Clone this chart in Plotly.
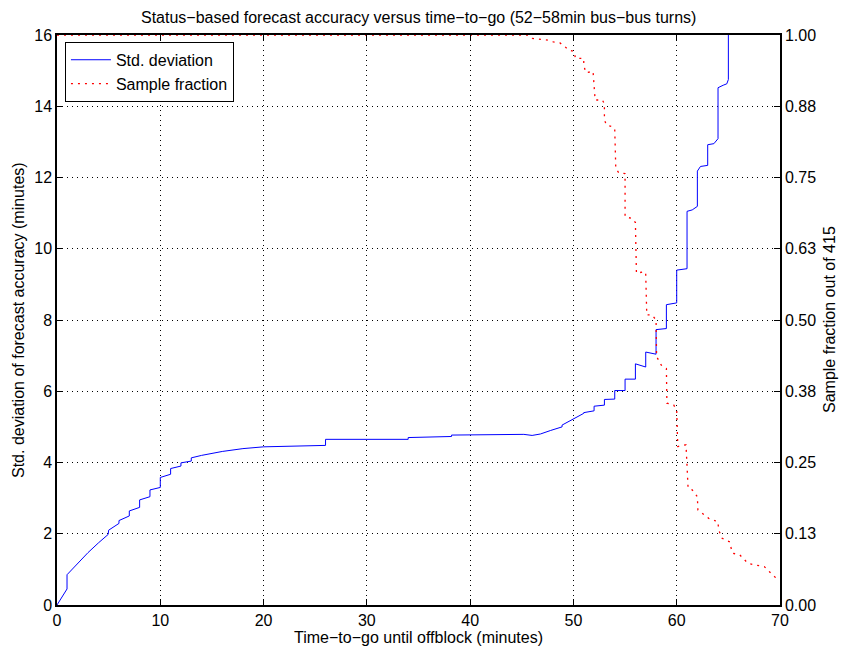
import plotly.graph_objects as go

# ---- data ----
std_x = [0, 0.97, 0.97, 2, 3, 4, 4.95, 5.0, 6.0, 6.0, 7.0, 7.0, 8.0, 8.0, 9.0, 9.0,
         10.0, 10.0, 11.0, 11.0, 12.0, 12.0, 13.0, 13.0, 14, 16, 18, 20, 23, 26, 26,
         34, 34, 37.4, 37.4, 38.2, 38.2, 43.7, 43.7, 45.2, 46, 46.8, 47.8, 48.9, 48.9,
         50, 51, 51, 52, 52, 53, 53, 54, 54, 55, 55, 56, 56, 56.5, 57, 57, 58, 58,
         59, 59, 60, 60, 61, 61, 61.5, 62, 62, 62.3, 63, 63, 63.6, 64, 64, 64.5,
         64.85, 65, 65]
std_y = [0, 0.45, 0.85, 1.17, 1.47, 1.74, 1.98, 2.10, 2.29, 2.37, 2.50, 2.64, 2.74, 2.95,
         3.04, 3.23, 3.30, 3.58, 3.67, 3.83, 3.90, 3.99, 4.04, 4.13, 4.20, 4.31, 4.39,
         4.44, 4.47, 4.48, 4.65, 4.65, 4.70, 4.71, 4.73, 4.73, 4.77, 4.77, 4.79, 4.79,
         4.76, 4.80, 4.90, 5.00, 5.05, 5.22, 5.38, 5.40, 5.45, 5.58, 5.61, 5.77, 5.78,
         6.02, 6.02, 6.34, 6.34, 6.77, 6.72, 6.68, 7.10, 7.04, 7.73, 7.76, 8.43, 8.48,
         9.40, 9.44, 11.05, 11.09, 11.19, 12.18, 12.31, 12.34, 12.92, 12.95, 13.09,
         14.52, 14.59, 14.63, 14.75, 20.0]

frac_x = [0, 45.5, 46.0, 46.7, 47.5, 48.05, 48.7, 49.1, 49.5, 50.05, 50.2, 51.0, 51.0,
          51.2, 51.9, 52.1, 52.8, 53.0, 53.0, 53.2, 53.8, 54.0, 54.1, 54.4, 55.0, 55.0,
          55.7, 56.0, 56.1, 56.9, 57.0, 57.1, 57.6, 58.0, 58.05, 58.5, 59.0, 59.05,
          59.7, 60.0, 60.1, 60.9, 61.1, 61.5, 62.0, 62.05, 62.7, 63.1, 64.0, 64.05,
          64.4, 65.1, 65.4, 66.1, 66.9, 67.7, 68.5, 69.0, 69.8]
frac_y = [1.0, 1.0, 0.994, 0.992, 0.991, 0.988, 0.986, 0.981, 0.974, 0.971, 0.959, 0.959,
          0.947, 0.934, 0.936, 0.886, 0.886, 0.879, 0.851, 0.842, 0.839, 0.835, 0.766,
          0.758, 0.757, 0.681, 0.678, 0.671, 0.582, 0.585, 0.580, 0.509, 0.509, 0.500,
          0.436, 0.421, 0.415, 0.354, 0.351, 0.342, 0.278, 0.281, 0.205, 0.202, 0.190,
          0.167, 0.158, 0.152, 0.146, 0.132, 0.117, 0.111, 0.091, 0.088, 0.073, 0.070,
          0.067, 0.058, 0.044]

x_ticks = [0, 10, 20, 30, 40, 50, 60, 70]
left_ticks = [0, 2, 4, 6, 8, 10, 12, 14, 16]
right_ticks = [0, 0.125, 0.25, 0.375, 0.5, 0.625, 0.75, 0.875, 1.0]
right_labels = ["0.00", "0.13", "0.25", "0.38", "0.50", "0.63", "0.75", "0.88", "1.00"]

title_text = "Status\u2212based forecast accuracy versus time\u2212to\u2212go (52\u221258min bus\u2212bus turns)"
xlabel = "Time\u2212to\u2212go until offblock (minutes)"
ylabel = "Std. deviation of forecast accuracy (minutes)"
y2label = "Sample fraction out of 415"

FONT = "Liberation Sans, Arial, Helvetica, sans-serif"

fig = go.Figure()
fig.add_trace(go.Scatter(x=std_x, y=std_y, mode="lines", name="Std. deviation",
                         line=dict(color="#0000ff", width=1)))
fig.add_trace(go.Scatter(x=frac_x, y=frac_y, mode="lines", name="Sample fraction",
                         yaxis="y2", line=dict(color="#ff0000", width=1.3, dash="2px,5px")))

grid = dict(showgrid=True, gridcolor="#000000", gridwidth=1, griddash="1px,4px")

fig.update_layout(
    width=843, height=652,
    paper_bgcolor="white", plot_bgcolor="white",
    margin=dict(l=57, r=63, t=35, b=47, pad=0),
    font=dict(family=FONT, size=16, color="black"),
    showlegend=True,
    legend=dict(x=0.011, y=0.988, xanchor="left", yanchor="top",
                bgcolor="white", bordercolor="black", borderwidth=1,
                font=dict(size=16), tracegroupgap=0, itemwidth=40),
    xaxis=dict(range=[0, 70], tickvals=x_ticks, ticks="inside", ticklen=6,
               tickcolor="black", showline=True, linecolor="black", linewidth=1.5,
               mirror="ticks", zeroline=False, tickfont=dict(size=16), **grid),
    yaxis=dict(range=[0, 16], tickvals=left_ticks, ticks="inside", ticklen=6,
               tickcolor="black", showline=True, linecolor="black", linewidth=1.5,
               mirror=True, zeroline=False, tickfont=dict(size=16), **grid),
    yaxis2=dict(range=[0, 1], tickvals=right_ticks, ticktext=right_labels,
                overlaying="y", side="right", ticks="inside", ticklen=6,
                tickcolor="black", showline=True, linecolor="black", linewidth=1.5,
                showgrid=False, zeroline=False, tickfont=dict(size=16)),
    annotations=[
        dict(text=title_text, x=0.5, y=1, xref="paper", yref="paper", yshift=18,
             xanchor="center", yanchor="middle", showarrow=False, font=dict(size=16)),
        dict(text=xlabel, x=0.5, xref="paper", y=0, yref="paper", yshift=-32,
             xanchor="center", yanchor="middle", showarrow=False, font=dict(size=16)),
        dict(text=ylabel, textangle=-90, x=0, xref="paper", xshift=-39, y=0.5,
             yref="paper", xanchor="center", yanchor="middle", showarrow=False,
             font=dict(size=16)),
        dict(text=y2label, textangle=-90, x=1, xref="paper", xshift=49, y=0.5,
             yref="paper", xanchor="center", yanchor="middle", showarrow=False,
             font=dict(size=16)),
    ],
)

fig.write_html("out.html", config={"displayModeBar": False},
               post_script="document.body.style.margin='0';document.body.style.padding='0';")
